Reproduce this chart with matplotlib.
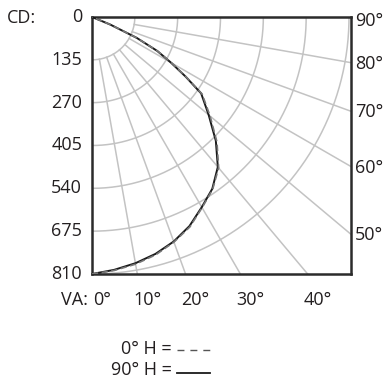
import numpy as np
import matplotlib
matplotlib.use('Agg')
import matplotlib.pyplot as plt
from matplotlib.lines import Line2D
from matplotlib.transforms import offset_copy

plt.rcParams['font.family'] = ['Open Sans', 'DejaVu Sans']
plt.rcParams['lines.scale_dashes'] = False

# candela values (vertical angle in degrees)
angles = [0, 5, 10, 15, 20, 25, 30, 35, 40, 45, 50, 55, 57.5, 60, 62.5, 65, 67.5, 70, 75, 80, 85, 90]
cd_0h = [810, 802, 791, 776, 755, 730, 694, 663, 621, 557, 486, 424, 352, 290, 234, 154, 62, 0, 0, 0, 0, 0]
cd_90h = [810, 800, 788, 773, 753, 727, 692, 661, 617, 552, 480, 420, 350, 287, 232, 155, 62, 0, 0, 0, 0, 0]

cd_ticks = [0, 135, 270, 405, 540, 675, 810]
va_ticks = [0, 10, 20, 30, 40]
side_ticks = [90, 80, 70, 60, 50]
ray_angles = [10, 20, 30, 40, 50, 60, 70, 80]

W, H = 390, 381
fig = plt.figure(figsize=(W / 100, H / 100), dpi=100)
ax = fig.add_axes([92 / W, (H - 274) / H, 259 / W, 257 / H])

ymax = cd_ticks[-1]
xmax = ymax * 259 / 257
ax.set_xlim(0, xmax)
ax.set_ylim(ymax, 0)

grid_col = '#c3c3c3'
txt_col = '#231f20'

# arcs
t = np.radians(np.linspace(0, 90, 200))
for r in cd_ticks[1:]:
    ax.plot(r * np.sin(t), r * np.cos(t), color=grid_col, lw=1.1, zorder=1)
# rays, starting at the first arc
for a in ray_angles:
    ar = np.radians(a)
    ax.plot([135 * np.sin(ar), 3000 * np.sin(ar)], [135 * np.cos(ar), 3000 * np.cos(ar)],
            color=grid_col, lw=1.1, zorder=1)

th = np.radians(angles)
c90 = np.array(cd_90h)
c0 = np.array(cd_0h)
ax.plot(c90 * np.sin(th), c90 * np.cos(th), color='#1a1a1a', lw=1.4, zorder=3)
ax.plot(c0 * np.sin(th), c0 * np.cos(th), color='#777777', lw=1.2, dashes=(4.5, 2.5), zorder=4)

ax.set_xticks([])
ax.set_yticks([])
for s in ax.spines.values():
    s.set_color('#2b2b2b')
    s.set_linewidth(1.8)

fs = 13
# candela labels on the left
for c in cd_ticks:
    tr = offset_copy(ax.transData, fig=fig, x=-10, y=0, units='dots')
    ax.text(0, c, str(c), transform=tr, ha='right', va='center', fontsize=fs, color=txt_col)
fig.text(7 / W, 1 - 18 / H, 'CD:', ha='left', va='center', fontsize=fs, color=txt_col)

# vertical angle labels along the bottom
for a in va_ticks:
    x = ymax * np.tan(np.radians(a))
    dx = 1 if a == 0 else -4
    tr = offset_copy(ax.transData, fig=fig, x=dx, y=-26, units='dots')
    ax.text(x, ymax, '%d°' % a, transform=tr, ha='left', va='center', fontsize=fs, color=txt_col)
fig.text(88 / W, 1 - 300 / H, 'VA:', ha='right', va='center', fontsize=fs, color=txt_col)

# angle labels on the right
for a in side_ticks:
    y = xmax / np.tan(np.radians(a)) if a < 90 else 0
    dy = -4 if a == 90 else -1
    tr = offset_copy(ax.transData, fig=fig, x=4, y=dy, units='dots')
    ax.text(xmax, y, '%d°' % a, transform=tr, ha='left', va='center', fontsize=fs, color=txt_col)

# legend
fig.text(172 / W, 1 - 349 / H, '0° H =', ha='right', va='center', fontsize=fs, color=txt_col)
fig.text(172 / W, 1 - 370 / H, '90° H =', ha='right', va='center', fontsize=fs, color=txt_col)
fig.add_artist(Line2D([177 / W, 210 / W], [1 - 350 / H] * 2, transform=fig.transFigure,
                      color='#555555', lw=1.0, dashes=(5, 4.3)))
fig.add_artist(Line2D([177 / W, 210 / W], [1 - 373 / H] * 2, transform=fig.transFigure,
                      color='#1a1a1a', lw=1.3))

fig.savefig('out.png', dpi=100)
